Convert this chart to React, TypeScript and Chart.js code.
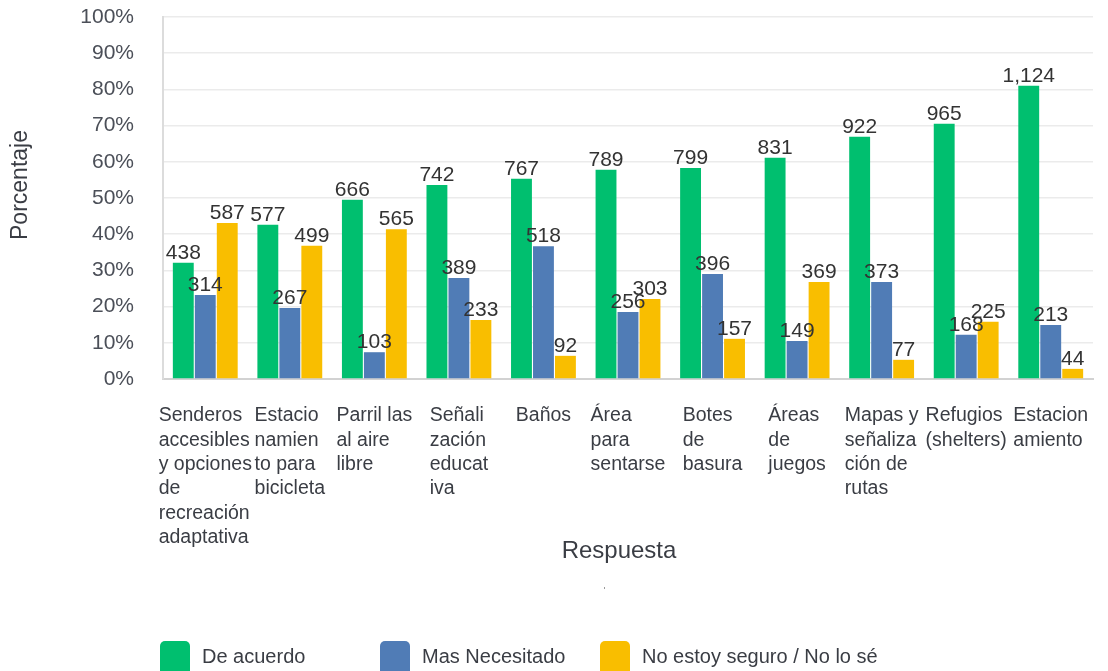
import React, { useEffect, useRef } from 'react';
import { Chart, registerables } from 'chart.js';

Chart.register(...registerables);

const categoryLines: string[][] = [
  ['Senderos', 'accesibles', 'y opciones', 'de', 'recreación', 'adaptativa'],
  ['Estacio', 'namien', 'to para', 'bicicleta'],
  ['Parril las', 'al aire', 'libre'],
  ['Señali', 'zación', 'educat', 'iva'],
  ['Baños'],
  ['Área', 'para', 'sentarse'],
  ['Botes', 'de', 'basura'],
  ['Áreas', 'de', 'juegos'],
  ['Mapas y', 'señaliza', 'ción de', 'rutas'],
  ['Refugios', '(shelters)'],
  ['Estacion', 'amiento'],
];

const seriesNames = ['De acuerdo', 'Mas Necesitado', 'No estoy seguro / No lo sé'];

const agreePct = [32.1, 42.6, 49.5, 53.6, 55.3, 57.8, 58.3, 61.1, 66.9, 70.5, 81.0];
const neededPct = [23.2, 19.6, 7.4, 27.9, 36.7, 18.5, 29.0, 10.5, 26.8, 12.2, 14.9];
const unsurePct = [43.1, 36.8, 41.4, 16.3, 6.4, 22.1, 11.1, 26.8, 5.3, 15.8, 2.8];

const agreeCounts = [438, 577, 666, 742, 767, 789, 799, 831, 922, 965, 1124];
const neededCounts = [314, 267, 103, 389, 518, 256, 396, 149, 373, 168, 213];
const unsureCounts = [587, 499, 565, 233, 92, 303, 157, 369, 77, 225, 44];

const yTicks = [0, 10, 20, 30, 40, 50, 60, 70, 80, 90, 100];

const xTitle = 'Respuesta';
const yTitle = 'Porcentaje';

const COLORS = ['#00BF6F', '#507CB6', '#F9BE00'];
const TEXT = '#3a3d44';
const TICK_TEXT = '#4b4f58';
const FONT = '"Liberation Sans", Arial, sans-serif';

export default function App() {
  const ref = useRef<HTMLCanvasElement>(null);

  useEffect(() => {
    const canvas = ref.current;
    if (!canvas) return;
    const counts = [agreeCounts, neededCounts, unsureCounts];

    const overlay = {
      id: 'overlay',
      afterDatasetsDraw(chart: any) {
        const ctx = chart.ctx;
        ctx.save();
        ctx.font = `21px ${FONT}`;
        ctx.fillStyle = '#333333';
        ctx.textAlign = 'center';
        ctx.textBaseline = 'alphabetic';
        chart.data.datasets.forEach((_: any, i: number) => {
          const meta = chart.getDatasetMeta(i);
          meta.data.forEach((bar: any, j: number) => {
            ctx.fillText(counts[i][j].toLocaleString('en-US'), bar.x, bar.y - 4);
          });
        });
        ctx.restore();
      },
      afterDraw(chart: any) {
        const ctx = chart.ctx;
        const xs = chart.scales.x;
        ctx.save();
        // category labels (left-aligned lines)
        ctx.font = `19.5px ${FONT}`;
        ctx.fillStyle = TEXT;
        ctx.textAlign = 'left';
        ctx.textBaseline = 'middle';
        (chart.data.labels as string[][]).forEach((lines, i) => {
          const cx = xs.getPixelForValue(i);
          const w = Math.max(...lines.map((l) => ctx.measureText(l).width));
          const left = cx - w / 2;
          lines.forEach((l, k) => ctx.fillText(l, left, 416 + k * 24.3));
        });
        // x title
        ctx.font = `24px ${FONT}`;
        ctx.textAlign = 'center';
        ctx.fillText(xTitle, 619, 551);
        // small mark
        ctx.fillStyle = '#9a9a9a';
        ctx.fillRect(604, 587, 1, 2);
        // y title
        ctx.save();
        ctx.translate(21, 185);
        ctx.rotate(-Math.PI / 2);
        ctx.font = `23px ${FONT}`;
        ctx.fillStyle = TEXT;
        ctx.textAlign = 'center';
        ctx.textBaseline = 'middle';
        ctx.fillText(yTitle, 0, 0);
        ctx.restore();
        // legend
        chart.data.datasets.forEach((ds: any, i: number) => {
          const x = 160 + i * 220;
          ctx.fillStyle = ds.backgroundColor;
          ctx.beginPath();
          ctx.roundRect(x, 641, 30, 36, 5);
          ctx.fill();
          ctx.fillStyle = TEXT;
          ctx.font = `20px ${FONT}`;
          ctx.textAlign = 'left';
          ctx.textBaseline = 'middle';
          ctx.fillText(ds.label, x + 42, 657);
        });
        ctx.restore();
      },
    };

    const pctSeries = [agreePct, neededPct, unsurePct];

    const chart = new Chart(canvas, {
      type: 'bar',
      data: {
        labels: categoryLines as any,
        datasets: seriesNames.map((name, i) => ({
          label: name,
          data: pctSeries[i],
          backgroundColor: COLORS[i],
          borderWidth: 0,
          barPercentage: 0.95,
          categoryPercentage: 0.78,
        })),
      },
      options: {
        responsive: false,
        animation: false,
        layout: { padding: { left: 0, right: 15, top: 17, bottom: 0 } },
        plugins: {
          legend: { display: false },
          tooltip: { enabled: false },
        },
        scales: {
          x: {
            grid: { display: false },
            border: { display: true, color: '#d2d2d2', width: 2 },
            ticks: { display: false },
            afterFit(scale: any) {
              scale.height = 671 - 379;
            },
          },
          y: {
            min: 0,
            max: 100,
            afterBuildTicks(scale: any) {
              scale.ticks = yTicks.map((v) => ({ value: v }));
            },
            ticks: {
              callback: (v: any) => `${v}%`,
              font: { family: FONT, size: 21 },
              color: TICK_TEXT,
              padding: 0,
            },
            grid: {
              color: '#ebebeb',
              lineWidth: 1.5,
              drawTicks: true,
              tickLength: 29,
              tickColor: 'rgba(0,0,0,0)',
            },
            border: { display: true, color: '#dcdcdc', width: 2 },
            afterFit(scale: any) {
              scale.width = 163;
            },
          },
        },
      },
      plugins: [overlay],
    });

    return () => chart.destroy();
  }, []);

  return (
    <div style={{ position: 'fixed', left: 0, top: 0, width: 1108, height: 671, background: '#fff' }}>
      <canvas ref={ref} width={1108} height={671} style={{ display: 'block' }} />
    </div>
  );
}
